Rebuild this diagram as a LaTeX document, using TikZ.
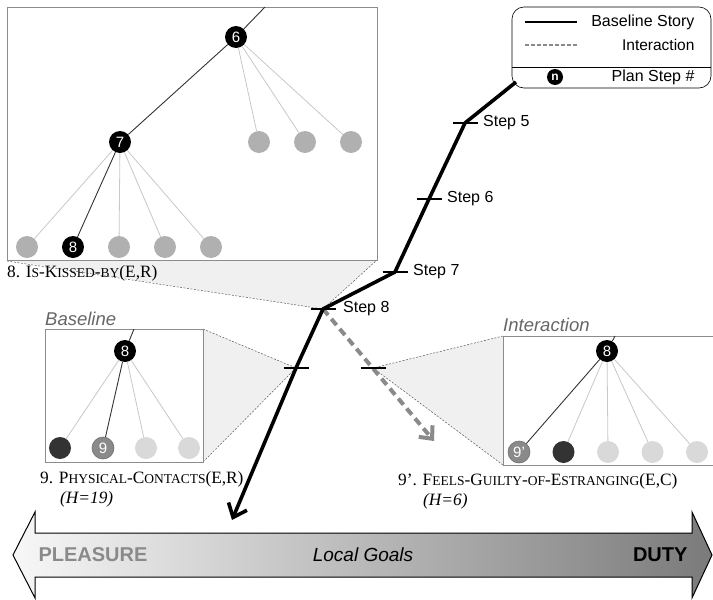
\documentclass[tikz,border=0pt]{standalone}
\usepackage{fontspec}
\setmainfont{Liberation Serif}
\setsansfont{Liberation Sans}
\usetikzlibrary{arrows.meta,positioning}
\definecolor{DeadGray}{HTML}{B0B0B0}
\definecolor{PaleGray}{HTML}{D9D9D9}
\definecolor{DarkGray}{HTML}{333333}
\definecolor{MidGray}{HTML}{8A8A8A}
\definecolor{EdgeGray}{HTML}{C8C8C8}
\definecolor{ShadeGray}{HTML}{F0F0F0}
\definecolor{FrameGray}{HTML}{8C8C8C}
\definecolor{TitleGray}{HTML}{666666}
\tikzstyle{plan} = [circle,inner sep=0pt,minimum size=22pt,text=white,font=\sffamily\fontsize{15}{15}\selectfont]
\tikzstyle{done} = [plan,fill=black]
\tikzstyle{dead} = [plan,fill=DeadGray]
\tikzstyle{pale} = [plan,fill=PaleGray]
\tikzstyle{shut} = [plan,fill=DarkGray]
\tikzstyle{pick} = [plan,fill=MidGray,draw=DarkGray!70,line width=0.6pt]
\tikzstyle{branch} = [EdgeGray,line width=0.8pt]
\tikzstyle{chosen} = [DarkGray,line width=0.9pt]
\tikzstyle{inset} = [draw=FrameGray,fill=white,line width=1pt]
\tikzstyle{zoomfan} = [fill=ShadeGray]
\tikzstyle{zoomedge} = [black!65,dash pattern=on 2pt off 1.5pt,line width=0.5pt]
\tikzstyle{stepmark} = [line width=1.1pt]
\tikzstyle{steplabel} = [inner sep=0pt,label distance=18pt,font=\sffamily\fontsize{16}{16}\selectfont]
\tikzstyle{story} = [line width=3.6pt,line join=round,-{Straight Barb[length=12pt,width=20pt]}]
\tikzstyle{interplay} = [MidGray,line width=4pt,dash pattern=on 8pt off 5pt,-{Straight Barb[length=10pt,width=18pt]}]
\tikzstyle{caption} = [anchor=base west,inner sep=0pt,font=\fontsize{17.3}{20}\selectfont]
\tikzstyle{insettitle} = [anchor=base west,inner sep=0pt,text=TitleGray,font=\sffamily\itshape\fontsize{18.5}{20}\selectfont]
\newcommand\caps[1]{{\fontsize{13.5}{14}\selectfont\MakeUppercase{#1}}}

\begin{document}
\begin{tikzpicture}[x=1pt,y=-1pt,node distance=46pt]
\useasboundingbox (0,0) rectangle (713,600);
% points of the story line
\coordinate (s4) at (516,82);
\coordinate[label={[steplabel]right:Step 5}] (s5) at (465,123);
\coordinate[label={[steplabel]right:Step 6}] (s6) at (429,199);
\coordinate[label={[steplabel]right:Step 7}] (s7) at (395,272);
\coordinate[label={[steplabel,label distance=20pt]right:Step 8}] (s8) at (323,309);
\coordinate (s9) at (296,368);
\coordinate (s10) at (232,520);
\coordinate (i9) at (373,368);
\coordinate (i10) at (434,441);

% zoom fans
\fill[zoomfan] (7,260) -- (377,260) -- (s8) -- cycle;
\draw[zoomedge] (7,261) -- (s8) -- (377,260);
\fill[zoomfan] (203,329) -- (s9) -- (203,462) -- cycle;
\draw[zoomedge] (203,329) -- (s9) -- (203,462);
\fill[zoomfan] (503,336) -- (i9) -- (503,465) -- cycle;
\draw[zoomedge] (503,336) -- (i9) -- (503,465);

% step 8 close-up
\draw[inset] (7,7) rectangle (377,260);
\node[done] (p6) at (236,37) {6};
\node[done] (p7) at (120,142) {7};
\node[dead] (q1) at (259,142) {};
\node[dead,right of=q1] (q2) {};
\node[dead,right of=q2] (q3) {};
\node[dead] (r1) at (27,247) {};
\node[done,right of=r1] (p8) {8};
\node[dead,right of=p8] (r3) {};
\node[dead,right of=r3] (r4) {};
\node[dead,right of=r4] (r5) {};
\coordinate (p5) at (265,7);
\draw[chosen] (p5) -- (p6) -- (p7) -- (p8);
\foreach \n in {q1,q2,q3} \draw[branch] (p6) -- (\n);
\foreach \n in {r1,r3,r4,r5} \draw[branch] (p7) -- (\n);
\node[caption] at (7,277) {8. I\caps{s}-K\caps{issed}-\caps{by}(E,R)};

% baseline close-up
\node[insettitle] at (45,325) {Baseline};
\draw[inset] (45,329) rectangle (203,462);
\begin{scope}[node distance=43pt]
\node[done] (b8) at (125,351) {8};
\node[shut] (b1) at (60,448) {};
\node[pick,right of=b1] (b9) {9};
\node[pale,right of=b9] (b3) {};
\node[pale,right of=b3] (b4) {};
\end{scope}
\coordinate (b7) at (134,329);
\draw[chosen] (b7) -- (b8) -- (b9);
\foreach \n in {b1,b3,b4} \draw[branch] (b8) -- (\n);
\node[caption] at (40,483) {9. P\caps{hysical}-C\caps{ontacts}(E,R)};
\node[caption] at (60,503) {\itshape (H=19)};

% interaction close-up
\node[insettitle] at (503,331) {Interaction};
\draw[inset] (503,336) rectangle (716,465);
\begin{scope}[node distance=44.5pt]
\node[done] (c8) at (607,351) {8};
\node[pick] (c9) at (519,452) {9'};
\node[shut,right of=c9] (c2) {};
\node[pale,right of=c2] (c3) {};
\node[pale,right of=c3] (c4) {};
\node[pale,right of=c4] (c5) {};
\end{scope}
\coordinate (c7) at (615,336);
\draw[chosen] (c7) -- (c8) -- (c9);
\foreach \n in {c2,c3,c4,c5} \draw[branch] (c8) -- (\n);
\node[caption] at (398,485) {9'. F\caps{eels}-G\caps{uilty}-\caps{of}-E\caps{stranging}(E,C)};
\node[caption] at (423,505) {\itshape (H=6)};

% legend
\node[draw,rounded corners=12pt,line width=0.6pt,minimum width=199pt,minimum height=81pt] (legend) at (611.5,47.5) {};
\draw (legend.west |- 0,67) -- (legend.east |- 0,67);
\draw[line width=1.5pt] (525,22) -- (577,22);
\draw[MidGray,line width=1.2pt,dash pattern=on 3.5pt off 2.5pt] (525,45) -- (577,45);
\node[circle,fill=black,inner sep=0pt,minimum size=16pt,text=white,font=\sffamily\bfseries\fontsize{12}{12}\selectfont] (npl) at (555,77) {n};
\node[anchor=east,font=\sffamily\fontsize{16}{16}\selectfont] at (698,22) {Baseline Story};
\node[anchor=east,font=\sffamily\fontsize{15.5}{16}\selectfont] at (698,45) {Interaction};
\node[anchor=east,font=\sffamily\fontsize{16}{16}\selectfont] at (698,77) {Plan Step \#};

% story and interaction
\draw[interplay] (s8) -- (i10);
\draw[story] (s4) -- (s5) -- (s6) -- (s7) -- (s8) -- (s9) -- (s10);
\foreach \s in {s5,s6,s7,s8,s9,i9}
  \draw[stepmark] ([xshift=-12.5pt]\s) -- ([xshift=12.5pt]\s);

% goal axis
\shadedraw[left color=black!3,right color=black!52,draw=black,line width=1pt]
  (13,555) -- (35,512) -- (35,533) -- (692,533) -- (692,512) -- (712,555)
  -- (692,598) -- (692,577) -- (35,577) -- (35,598) -- cycle;
\node[anchor=west,text=MidGray,font=\sffamily\bfseries\fontsize{20}{20}\selectfont] (pleasure) at (35,555) {PLEASURE};
\node[font=\sffamily\itshape\fontsize{19}{20}\selectfont] (goals) at (363,555) {Local Goals};
\node[anchor=east,font=\sffamily\bfseries\fontsize{20}{20}\selectfont] (duty) at (691,555) {DUTY};
\end{tikzpicture}
\end{document}
